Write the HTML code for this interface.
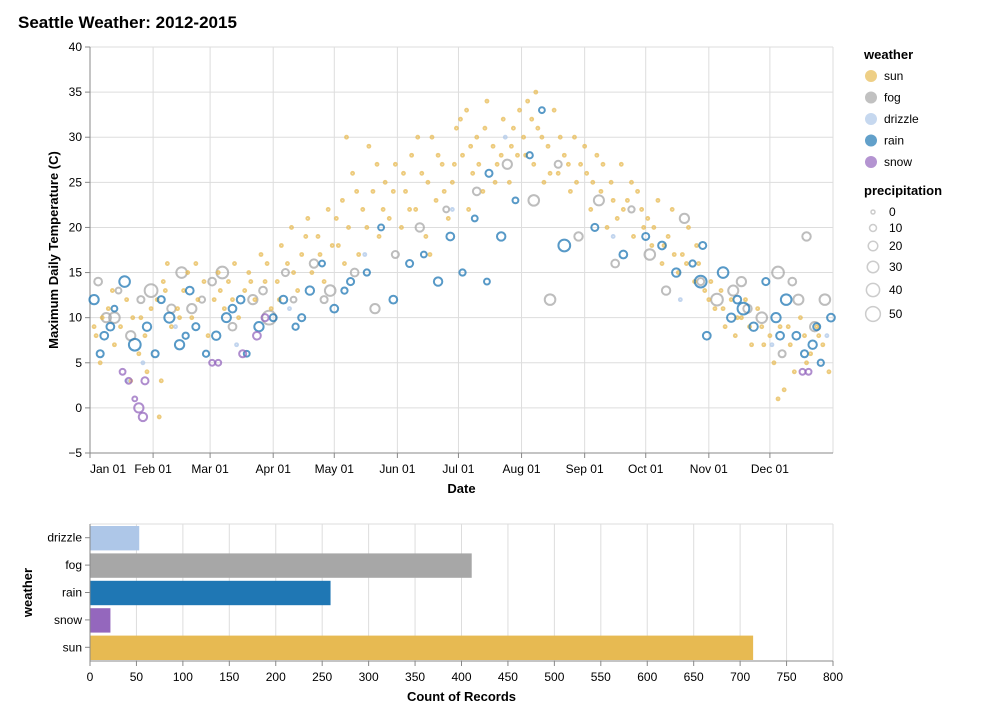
<!DOCTYPE html>
<html><head><meta charset="utf-8">
<style>
body{margin:0;background:#fff;font-family:"Liberation Sans",sans-serif;}
svg text{font-family:"Liberation Sans",sans-serif;}
</style></head>
<body>
<svg id="chart" width="996" height="718" xmlns="http://www.w3.org/2000/svg">
<text x="18" y="28" font-size="17" font-weight="bold" fill="#000">Seattle Weather: 2012-2015</text>
<g id="scatter"></g>
<g id="bars"></g>
<g id="legend"></g>
</svg>
<script>
// [dayOfYear, tempMax, precipitation]
const sunPts=[[3,8,0],[6,10,0],[9,11,0],[12,7,0],[15,9,0],[18,12,0],[21,10,0],[24,6,0],[27,8,0],[30,11,0],[5,5,0],[20,3,0],[28,4,0],
[33,12,0],[36,14,0],[38,16,0],[40,9,0],[43,11,0],[46,13,0],[48,15,0],[50,10,0],[53,12,0],[56,14,0],[58,8,0],[35,3,0],[34,-1,0],
[61,12,0],[63,15,0],[66,11,0],[68,14,0],[71,16,0],[73,10,0],[76,13,0],[78,15,0],[81,12,0],[84,17,0],[86,14,0],[89,11,0],
[92,14,0],[94,18,0],[97,16,0],[99,20,0],[102,13,0],[104,17,0],[107,21,0],[109,15,0],[112,19,0],[115,14,0],[117,22,0],[119,18,0],
[122,18,0],[124,23,0],[127,20,0],[129,26,0],[132,17,0],[134,22,0],[137,29,0],[139,24,0],[142,19,0],[145,25,0],[147,21,0],[150,27,0],[126,30,0],
[153,20,0],[155,24,0],[158,28,0],[160,22,0],[163,26,0],[165,19,0],[168,30,0],[170,23,0],[173,27,0],[176,21,0],[178,25,0],[180,31,0],[167,17,0],
[183,28,0],[185,33,0],[188,26,0],[190,30,0],[193,24,0],[195,34,0],[198,29,0],[200,27,0],[203,32,0],[206,25,0],[208,31,0],[210,28,0],[186,22,0],
[213,30,0],[215,34,0],[218,27,0],[220,31,0],[223,25,0],[225,29,0],[228,33,0],[230,26,0],[233,28,0],[236,24,0],[238,30,0],[241,27,0],[219,35,0],
[244,26,0],[246,22,0],[249,28,0],[251,24,0],[254,20,0],[256,25,0],[259,21,0],[261,27,0],[264,23,0],[267,19,0],[269,24,0],[272,20,0],
[274,21,0],[276,18,0],[279,23,0],[281,16,0],[284,19,0],[286,22,0],[289,15,0],[291,17,0],[294,20,0],[297,14,0],[299,16,0],[302,13,0],
[305,14,0],[307,11,0],[310,13,0],[312,9,0],[315,12,0],[317,8,0],[320,10,0],[322,12,0],[325,7,0],[328,11,0],[330,9,0],
[334,8,0],[336,5,0],[339,9,0],[341,2,0],[344,7,0],[346,4,0],[349,10,0],[351,8,0],[354,6,0],[357,9,0],[360,7,0],[363,4,0],[338,1,0],
[2,9,0],[11,13,0],[25,10,0],[37,13,0],[44,10,0],[52,16,0],[64,13,0],[70,12,0],[79,14,0],[87,16,0],[93,12,0],[100,15,0],[106,19,0],[113,17,0],[121,21,0],[125,16,0],[131,24,0],[136,20,0],[141,27,0],[144,22,0],[149,24,0],[154,26,0],[157,22,0],[161,30,0],[166,25,0],[171,28,0],[174,24,0],[179,27,0],[182,32,0],[187,29,0],[191,27,0],[194,31,0],[199,25,0],[202,28,0],[207,29,0],[211,33,0],[214,28,0],[217,32,0],[222,30,0],[226,26,0],[231,30,0],[235,27,0],[239,25,0],[243,29,0],[247,25,0],[252,27,0],[257,23,0],[262,22,0],[266,25,0],[271,22,0],[277,20,0],[282,18,0],[287,17,0],[293,16,0],[298,18,0],[304,12,0],[311,11,0],[318,10,0],[324,9,0],[331,7,0],[343,9,0],[352,5,0],[358,8,0]];
const fogPts=[[4,14,10],[8,10,15],[14,13,5],[25,12,8],[40,11,12],[45,15,20],[55,12,6],[65,15,25],[70,9,10],[80,12,15],[88,10,35],[96,15,8],[100,12,5],[110,16,12],[118,13,20],[130,15,10],[140,11,15],[150,17,8],[162,20,12],[175,22,5],[190,24,10],[205,27,15],[218,23,20],[230,27,8],[240,19,12],[250,23,18],[258,16,10],[266,22,6],[275,17,20],[283,13,12],[292,21,15],[300,14,8],[308,12,25],[316,13,18],[323,11,12],[330,10,20],[338,15,25],[345,14,10],[352,19,12],[356,9,15],[361,12,20],[20,8,15],[30,13,30],[60,14,10],[226,12,20],[340,6,8],[12,10,20],[50,11,15],[85,13,10],[115,12,8],[320,14,15],[348,12,18]];
const drizzlePts=[[18,3,0],[26,5,0],[42,9,0],[72,7,0],[98,11,0],[135,17,0],[178,22,0],[204,30,0],[257,19,0],[290,12,0],[335,7,0],[362,8,0]];
const rainPts=[[2,12,15],[5,6,8],[10,9,10],[12,11,5],[17,14,20],[22,7,25],[28,9,12],[32,6,8],[39,10,18],[44,7,15],[49,13,10],[52,9,8],[57,6,6],[62,8,12],[67,10,14],[74,12,10],[77,6,5],[83,9,15],[90,10,8],[95,12,10],[101,9,6],[108,13,12],[114,16,5],[120,11,10],[128,14,8],[136,15,6],[143,20,5],[149,12,10],[157,16,8],[164,17,5],[171,14,12],[177,19,10],[183,15,6],[189,21,5],[196,26,8],[202,19,12],[209,23,5],[216,28,6],[222,33,5],[233,18,25],[248,20,8],[262,17,10],[273,19,8],[281,18,10],[288,15,12],[296,16,6],[301,18,8],[303,8,10],[311,15,20],[318,12,10],[321,11,25],[326,9,12],[332,14,8],[337,10,15],[342,12,20],[347,8,10],[351,6,8],[355,7,12],[359,5,6],[364,10,10],[300,14,25],[195,14,5],[7,8,10],[35,12,8],[47,8,6],[70,11,10],[104,10,8],[125,13,6],[315,10,12],[339,8,10],[357,9,8]];
const snowPts=[[19,3,5],[22,1,3],[24,0,15],[26,-1,12],[27,3,8],[16,4,5],[60,5,5],[63,5,5],[75,6,8],[82,8,10],[86,10,8],[350,4,5],[353,4,5]];
const weatherNames=["sun","fog","drizzle","rain","snow"];
const weatherColors=["#e7ba52","#a7a7a7","#aec7e8","#1f77b4","#9467bd"];
const barCategories=["drizzle","fog","rain","snow","sun"];
const barCounts=[53,411,259,22,714];
const yTicks=[-5,0,5,10,15,20,25,30,35,40];
const monthLabels=["Jan 01","Feb 01","Mar 01","Apr 01","May 01","Jun 01","Jul 01","Aug 01","Sep 01","Oct 01","Nov 01","Dec 01"];
const monthStarts=[0,31,59,90,120,151,181,212,243,273,304,334];
const xTicks=[0,50,100,150,200,250,300,350,400,450,500,550,600,650,700,750,800];
const precipLegend=[0,10,20,30,40,50];

const NS="http://www.w3.org/2000/svg";
function mk(tag,attrs,parent,text){const e=document.createElementNS(NS,tag);for(const k in attrs)e.setAttribute(k,attrs[k]);if(text!==undefined)e.textContent=text;parent.appendChild(e);return e;}
const L=90,R=833,T=47,B=453;
const xDay=d=>L+(d/365)*(R-L);
const yT=t=>B-(t+5)/45*(B-T);
const rP=p=>Math.sqrt(2+p*1.3);

const sc=document.getElementById('scatter');
yTicks.forEach(t=>{
 const g=mk('line',{x1:L,x2:R,y1:yT(t),y2:yT(t),stroke:'#ddd'},sc);
 
 
 const tk=mk('line',{x1:L-5,x2:L,y1:yT(t),y2:yT(t),stroke:'#888'},sc);
 
 
 const lb=mk('text',{x:L-8,y:yT(t)+4,'font-size':12,'text-anchor':'end',fill:'#000'},sc,String(t).replace('-','\u2212'));
 
 
});
monthStarts.forEach((d,i)=>{
 const x=xDay(d);
 const g=mk('line',{x1:x,x2:x,y1:T,y2:B,stroke:'#ddd'},sc);
 
 
 const tk=mk('line',{x1:x,x2:x,y1:B,y2:B+5,stroke:'#888'},sc);
 
 
 const lb=mk('text',{x:x,y:B+20,'font-size':12,'text-anchor':i===0?'start':'middle',fill:'#000'},sc,monthLabels[i]);
 
 
});
const rb=mk('line',{x1:R,x2:R,y1:T,y2:B,stroke:'#ddd'},sc);


const xa=mk('line',{x1:L,x2:R,y1:B,y2:B,stroke:'#888'},sc);


const ya=mk('line',{x1:L,x2:L,y1:T,y2:B,stroke:'#888'},sc);


const xt=mk('text',{x:(L+R)/2,y:B+40,'font-size':13,'font-weight':'bold','text-anchor':'middle'},sc,'Date');


const yt=mk('text',{x:0,y:0,'font-size':13,'font-weight':'bold','text-anchor':'middle',transform:`translate(58,${(T+B)/2}) rotate(-90)`},sc,'Maximum Daily Temperature (C)');



const series=[[fogPts,1],[sunPts,0],[drizzlePts,2],[rainPts,3],[snowPts,4]];
series.forEach(([pts,ci])=>{
 pts.forEach(p=>{
  const c=mk('circle',{cx:xDay(p[0]),cy:yT(p[1]),r:rP(p[2]),fill:'none',stroke:weatherColors[ci],'stroke-width':2,opacity:0.75},sc);
  
  
 });
});

// bars
const bg=document.getElementById('bars');
const BT=524,BB=661;
const xC=v=>L+v/800*(R-L);
xTicks.forEach(v=>{
 const g=mk('line',{x1:xC(v),x2:xC(v),y1:BT,y2:BB,stroke:'#ddd'},bg);
 
 
 const tk=mk('line',{x1:xC(v),x2:xC(v),y1:BB,y2:BB+5,stroke:'#888'},bg);
 
 
 const lb=mk('text',{x:xC(v),y:BB+20,'font-size':12,'text-anchor':'middle'},bg,String(v));
 
 
});
const bt=mk('line',{x1:L,x2:R,y1:BT,y2:BT,stroke:'#ddd'},bg);


const step=(BB-BT)/barCategories.length;
barCategories.forEach((c,i)=>{
 const y=BT+i*step;
 const r=mk('rect',{x:L,y:y+2,width:xC(barCounts[i])-L,height:step-3,fill:weatherColors[weatherNames.indexOf(c)]},bg);
 
 
 const lb=mk('text',{x:L-8,y:y+step/2+4,'font-size':12,'text-anchor':'end'},bg,c);
 
 
 const tk=mk('line',{x1:L-5,x2:L,y1:y+step/2,y2:y+step/2,stroke:'#888'},bg);
 
 
});
const bxa=mk('line',{x1:L,x2:R,y1:BB,y2:BB,stroke:'#888'},bg);


const bya=mk('line',{x1:L,x2:L,y1:BT,y2:BB,stroke:'#888'},bg);


const bxt=mk('text',{x:(L+R)/2,y:BB+40,'font-size':13,'font-weight':'bold','text-anchor':'middle'},bg,'Count of Records');


const byt=mk('text',{x:0,y:0,'font-size':13,'font-weight':'bold','text-anchor':'middle',transform:`translate(32,${(BT+BB)/2}) rotate(-90)`},bg,'weather');



// legend
const lg=document.getElementById('legend');
const lt=mk('text',{x:864,y:59,'font-size':13,'font-weight':'bold'},lg,'weather');


weatherNames.forEach((w,i)=>{
 const y=76+i*21.5;
 const c=mk('circle',{cx:871,cy:y,r:6,fill:weatherColors[i],opacity:0.7},lg);
 
 
 const t=mk('text',{x:884,y:y+4,'font-size':12},lg,w);
 
 
});
const pt=mk('text',{x:864,y:195,'font-size':13,'font-weight':'bold'},lg,'precipitation');


const py=[212,228,246,267,290,314];
precipLegend.forEach((p,i)=>{
 const c=mk('circle',{cx:873,cy:py[i],r:Math.max(2,rP(p)*0.9),fill:'none',stroke:'#ccc','stroke-width':1.5},lg);
 
 
 const t=mk('text',{x:889,y:py[i]+4,'font-size':12},lg,String(p));
 
 
});
</script>
</body></html>
